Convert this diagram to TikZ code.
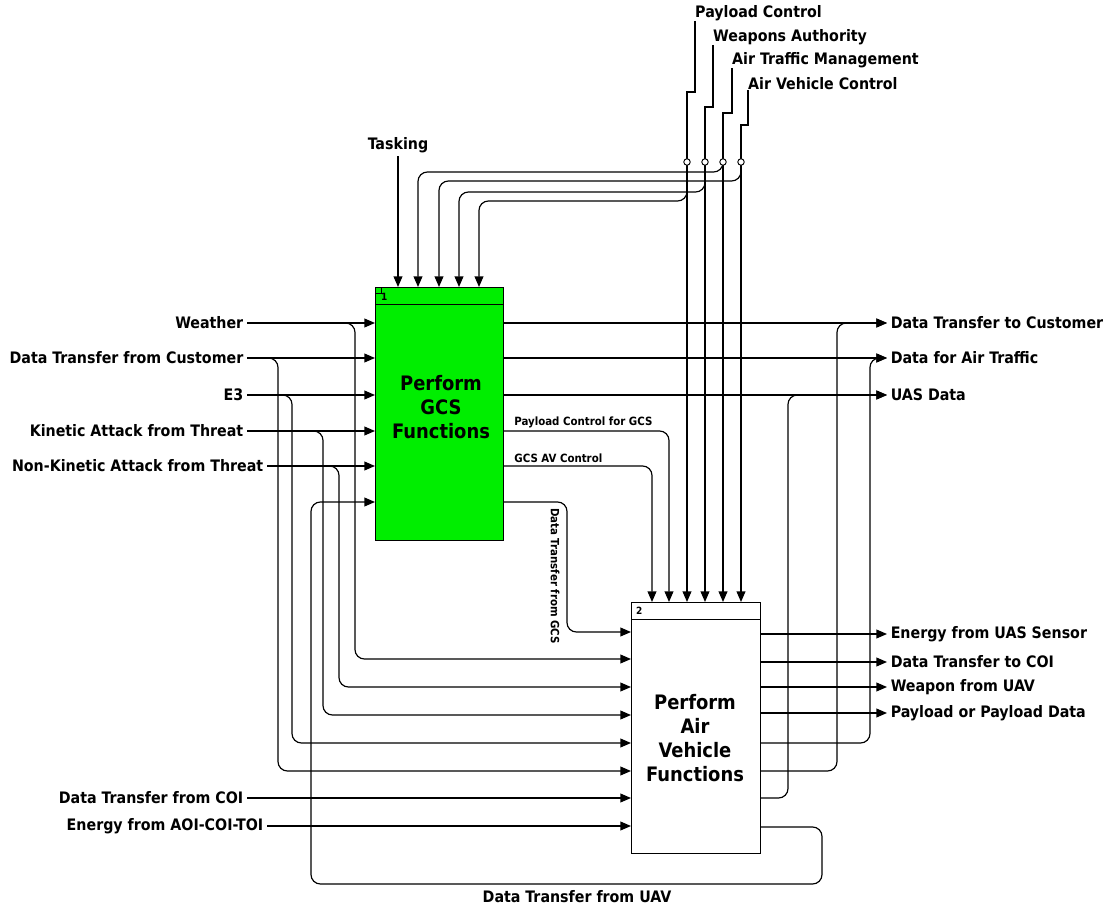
\documentclass[tikz,border=0pt]{standalone}
\usepackage{fontspec}
\setmainfont{DejaVu Sans Condensed}
\usetikzlibrary{positioning, arrows.meta}
\definecolor{gcsgreen}{HTML}{00EE00}

\begin{document}
\begin{tikzpicture}[x=0.03cm, y=-0.03cm,
  func/.style={draw, line width=1pt, inner sep=0pt, anchor=north west},
  boxtext/.style={align=center, font=\fontsize{17}{20.5}\selectfont\bfseries},
  num/.style={font=\fontsize{8.5}{10}\selectfont\bfseries, inner sep=0pt},
  lbl/.style={font=\fontsize{13.5}{15}\selectfont\bfseries, inner sep=3pt},
  tiny/.style={font=\fontsize{9.7}{11}\selectfont\bfseries, inner sep=1pt},
  flow/.style={line width=1pt, rounded corners=8pt, -{Triangle[length=9pt, width=7.5pt]}},
  ctrl/.style={flow, sharp corners},
  tap/.style={circle, draw, fill=white, inner sep=0pt, minimum size=5.5pt, line width=0.8pt}]
  \useasboundingbox (0,0) rectangle (1109,907);

  % Activity boxes
  \node[func, fill=gcsgreen, minimum width=3.84cm, minimum height=7.59cm] (b1) at (375,287) {};
  \node[func, fill=white, minimum width=3.87cm, minimum height=7.53cm] (b2) at (631,602) {};
  \draw[line width=0.8pt] (b1.west |- 0,304) -- (b1.east |- 0,304);
  \draw[line width=0.8pt] (b2.west |- 0,619) -- (b2.east |- 0,619);
  \draw[line width=0.5pt] (b1.north west) rectangle ++(6,6);
  \node[num, anchor=west] (n1) at (381,297) {1};
  \node[num, anchor=west] (n2) at (636,611) {2};
  \node[boxtext] (t1) at (441,407) {Perform\\GCS\\Functions};
  \node[boxtext] (t2) at (695,738) {Perform\\Air\\Vehicle\\Functions};

  % Inputs (left)
  \node[lbl, anchor=east] (weather) at (247,323) {Weather};
  \node[lbl, anchor=east] (dtcust) at (247,358) {Data Transfer from Customer};
  \node[lbl, anchor=east] (e3) at (247,395) {E3};
  \node[lbl, anchor=east] (kinetic) at (247,431) {Kinetic Attack from Threat};
  \node[lbl, anchor=east] (nonkin) at (267,466) {Non-Kinetic Attack from Threat};
  \node[lbl, anchor=east] (dtcoi) at (247,798) {Data Transfer from COI};
  \node[lbl, anchor=east] (energy) at (267,826) {Energy from AOI-COI-TOI};

  % Outputs (right)
  \node[lbl, anchor=west] (tocust) at (887,323) {Data Transfer to Customer};
  \node[lbl, anchor=west] (airtraf) at (887,358) {Data for Air Traffic};
  \node[lbl, anchor=west] (uasdata) at (887,395) {UAS Data};
  \node[lbl, anchor=west] (sensor) at (887,634) {Energy from UAS Sensor};
  \node[lbl, anchor=west] (tocoi) at (887,662) {Data Transfer to COI};
  \node[lbl, anchor=west] (weapon) at (887,687) {Weapon from UAV};
  \node[lbl, anchor=west] (payload) at (887,713) {Payload or Payload Data};

  % Controls (top)
  \node[lbl] (tasking) at (398,145) {Tasking};
  \node[lbl, anchor=south west, inner sep=0pt] (pctrl) at (695,21) {Payload Control};
  \node[lbl, anchor=south west, inner sep=0pt] (wauth) at (713,45) {Weapons Authority};
  \node[lbl, anchor=south west, inner sep=0pt] (atm) at (732,68) {Air Traffic Management};
  \node[lbl, anchor=south west, inner sep=0pt] (avc) at (748,90) {Air Vehicle Control};
  \coordinate (tpc) at (687,162);
  \coordinate (twa) at (705,162);
  \coordinate (tatm) at (723,162);
  \coordinate (tavc) at (741,162);

  % Inputs into box 1 and their branches to box 2
  \foreach \n in {weather, dtcust, e3, kinetic, nonkin}
    \draw[flow] (\n.east) -- (\n.east -| b1.west);
  \draw[flow] (weather.east) -| (355,659) -- (b2.west |- 0,659);
  \draw[flow] (nonkin.east) -| (339,687) -- (b2.west |- 0,687);
  \draw[flow] (kinetic.east) -| (323,715) -- (b2.west |- 0,715);
  \draw[flow] (e3.east) -| (292,743) -- (b2.west |- 0,743);
  \draw[flow] (dtcust.east) -| (278,771) -- (b2.west |- 0,771);
  \draw[flow] (dtcoi.east) -- (dtcoi.east -| b2.west);
  \draw[flow] (energy.east) -- (energy.east -| b2.west);

  % Box 1 outputs
  \foreach \n in {tocust, airtraf, uasdata}
    \draw[flow] (b1.east |- \n) -- (\n.west);
  \draw[flow] (b1.east |- 0,431) -| (b2.north -| 669,0);
  \draw[flow] (b1.east |- 0,466) -| (b2.north -| 652,0);
  \draw[flow] (b1.east |- 0,502) -| (567,632) -- (b2.west |- 0,632);
  \node[tiny, anchor=south west] (pcgcs) at (513,429) {Payload Control for GCS};
  \node[tiny, anchor=south west] (avgcs) at (513,464) {GCS AV Control};
  \node[tiny, rotate=-90] (dtgcs) at (555,576) {Data Transfer from GCS};

  % Box 2 outputs
  \foreach \n in {sensor, tocoi, weapon, payload}
    \draw[flow] (b2.east |- \n) -- (\n.west);
  \draw[flow] (b2.east |- 0,743) -| (870,358) -- (airtraf.west);
  \draw[flow] (b2.east |- 0,771) -| (837,323) -- (tocust.west);
  \draw[flow] (b2.east |- 0,798) -| (788,395) -- (uasdata.west);
  % feedback
  \draw[flow] (b2.east |- 0,827) -| (822,884) -| (311,502) -- (b1.west |- 0,502);
  \node[lbl] (dtuav) at (577,897) {Data Transfer from UAV};

  % Controls
  \draw[ctrl] (tasking.south) -- (tasking.south |- b1.north);
  \draw[ctrl] (pctrl.south west) |- (687,92) -- (b2.north -| 687,0);
  \draw[ctrl] (wauth.south west) |- (705,107) -- (b2.north -| 705,0);
  \draw[ctrl] (atm.south west) |- (723,113) -- (b2.north -| 723,0);
  \draw[ctrl] (avc.south west) |- (741,125) -- (b2.north -| 741,0);
  \draw[flow] (tatm) |- (418,172) -- (b1.north -| 418,0);
  \draw[flow] (tavc) |- (439,181) -- (b1.north -| 439,0);
  \draw[flow] (twa) |- (459,192) -- (b1.north -| 459,0);
  \draw[flow] (tpc) |- (479,201) -- (b1.north -| 479,0);
  \foreach \c in {tpc, twa, tatm, tavc}
    \node[tap] (\c dot) at (\c) {};
\end{tikzpicture}
\end{document}
